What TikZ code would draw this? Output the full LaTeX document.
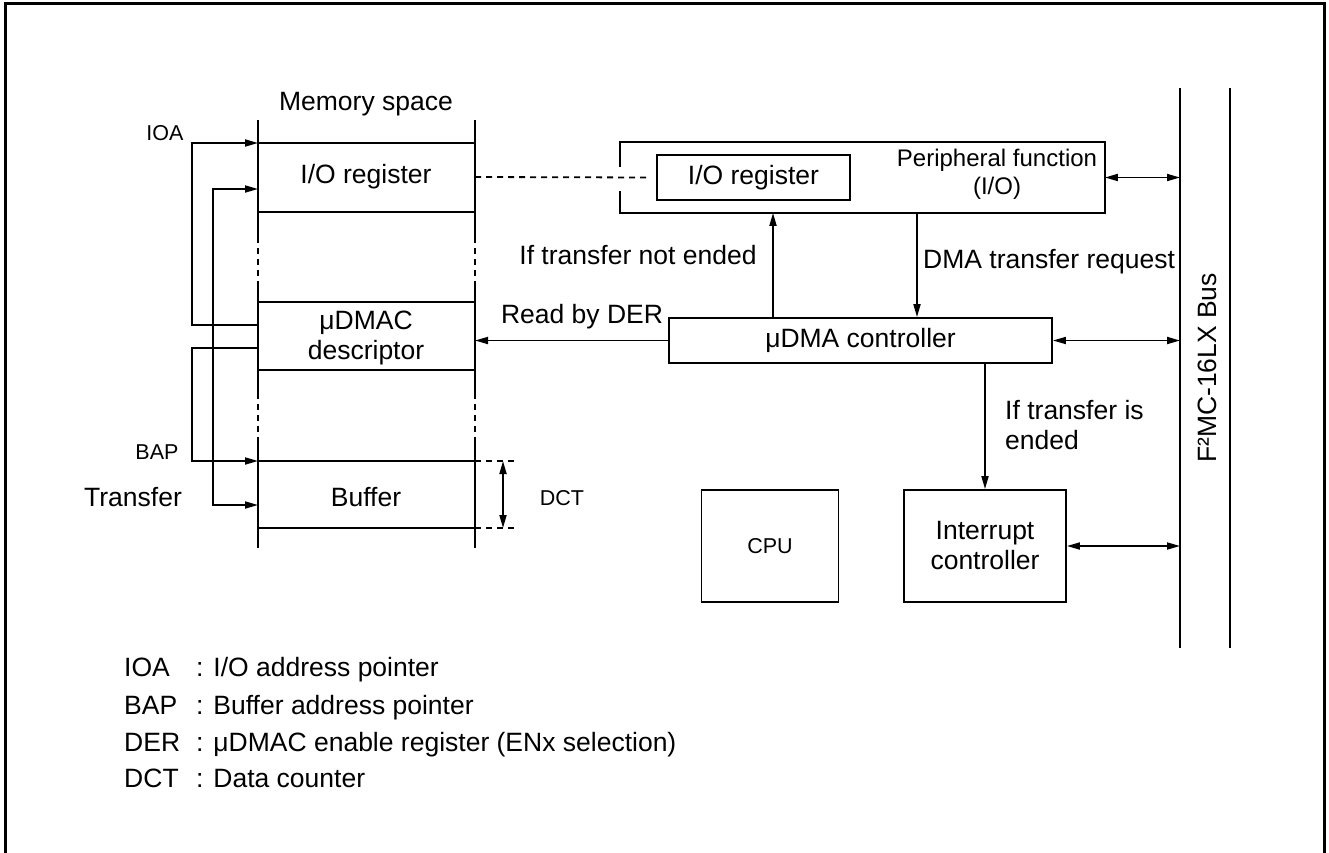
\documentclass[tikz,border=0pt]{standalone}
\usepackage{fontspec}
\setmainfont{Liberation Sans}
\usetikzlibrary{arrows.meta,calc}
\begin{document}
\begin{tikzpicture}[x=1pt,y=-1pt,
  line width=1.8pt,
  arr/.style={-{Triangle[length=13pt,width=7pt]}},
  darr/.style={{Triangle[length=13pt,width=7pt]}-{Triangle[length=13pt,width=7pt]}},
  box/.style={draw, line width=1.8pt, inner sep=0pt},
  big/.style={font=\fontsize{26.5}{30}\selectfont},
  small/.style={font=\fontsize{21.5}{25}\selectfont},
  dsh/.style={dash pattern=on 6pt off 5pt},
  leg/.style={big, anchor=base west}
]
\useasboundingbox (0,0) rectangle (1329,852);
% frame
\draw[line width=3pt] (5,853) -- (5,3) -- (1324,3) -- (1324,853);

% ---- memory space ----
\foreach \x in {258,475}{
  \draw (\x,120) -- (\x,237);
  \draw[dsh] (\x,237) -- (\x,285);
  \draw (\x,285) -- (\x,393);
  \draw[dsh] (\x,393) -- (\x,437);
  \draw (\x,437) -- (\x,548);
}
\foreach \y in {143,212,302,370,461,528}{
  \draw (258,\y) -- (475,\y);
}
\node[big] (memtitle) at (366,104) {Memory space};
\node[big] (memio) at (366,177) {I/O register};
\node[big, align=center] (memdesc) at (366,338) {μDMAC\\descriptor};
\node[big] (membuf) at (366,497) {Buffer};

\coordinate (ioa) at (258,143);
\coordinate (tr1) at (258,189);
\coordinate (desc1) at (258,325);
\coordinate (desc2) at (258,348);
\coordinate (bap) at (258,461);
\coordinate (tr2) at (258,505);
\coordinate (memR) at (475,0);
\coordinate (memIOr) at (475,177);

\draw[arr] (desc1) -- ++(-66,0) |- (ioa);
\draw[arr] (desc2) -- ++(-66,0) |- (bap);
\draw[darr] (tr1) -- ++(-45,0) |- (tr2);

\node[small] (lioa) at (165,133) {IOA};
\node[small] (lbap) at (157,452) {BAP};
\node[big] (ltr) at (133,497) {Transfer};

% DCT
\coordinate (d1) at (475,461);
\coordinate (d2) at (475,528);
\draw[dsh] (d1) -- ++(43,0);
\draw[dsh] (d2) -- ++(43,0);
\draw[darr] ($(d1)+(28,0)$) -- ($(d2)+(28,0)$);
\node[small] (ldct) at (562,498) {DCT};

% ---- peripheral ----
\node (periph) [minimum width=483pt, minimum height=69pt, inner sep=0pt] at (862.5,177.5) {};
\draw ($(periph.west)+(0,-11)$) -- (periph.north west) -- (periph.north east)
  -- (periph.south east) -- (periph.south west) -- ($(periph.west)+(0,13)$);
\node[box, minimum width=193pt, minimum height=45pt, big] (ioreg) at (753.5,177.5) {I/O register};
\node[align=center, font=\fontsize{24}{28}\selectfont] (plabel) at (997,174) {Peripheral function\\(I/O)};
\draw[dsh, shorten >=7pt] (memIOr) -- (ioreg.west);

% ---- uDMA controller ----
\node[box, minimum width=383pt, minimum height=45pt, big] (dma) at (860.5,340.5) {μDMA controller};

% ---- CPU / interrupt ----
\node[box, minimum width=137pt, minimum height=112pt, font=\fontsize{21.5}{25}\selectfont] (cpu) at (770,546) {CPU};
\node[box, minimum width=162pt, minimum height=112pt, big, align=center] (intc) at (985,546) {Interrupt\\controller};

% ---- bus ----
\draw (1180,88) -- (1180,648);
\draw (1230,88) -- (1230,648);
\coordinate (busL) at (1180,0);
\node[big, rotate=90] (buslabel) at (1207,368) {F²MC-16LX Bus};

% ---- connectors ----
\coordinate (reqx) at (917,0);
\coordinate (notx) at (773,0);
\draw[arr] (periph.south -| reqx) -- (dma.north -| reqx);
\draw[arr] (dma.north -| notx) -- (periph.south -| notx);
\draw[arr] (dma.south -| intc.north) -- (intc.north);
\draw[arr] (dma.west) -- (dma.west -| memR);
\draw[darr] (periph.east) -- (periph.east -| busL);
\draw[darr] (dma.east) -- (dma.east -| busL);
\draw[darr] (intc.east) -- (intc.east -| busL);

\node[big] (lnot) at (638,255) {If transfer not ended};
\node[big, anchor=west] (lreq) at (919,262) {DMA transfer request};
\node[big] (lder) at (582,317) {Read by DER};
\node[big, anchor=west, align=left] (lend) at (1001,425) {If transfer is\\ended};

% ---- legend ----
\node[leg] (kIOA) at (120,676) {IOA};
\node[leg] (tIOA) at (192,676) {: I/O address pointer};
\node[leg] (kBAP) at (120,714) {BAP};
\node[leg] (tBAP) at (192,714) {: Buffer address pointer};
\node[leg] (kDER) at (120,751) {DER};
\node[leg] (tDER) at (192,751) {: μDMAC enable register (ENx selection)};
\node[leg] (kDCT) at (120,787) {DCT};
\node[leg] (tDCT) at (192,787) {: Data counter};
\end{tikzpicture}
\end{document}
